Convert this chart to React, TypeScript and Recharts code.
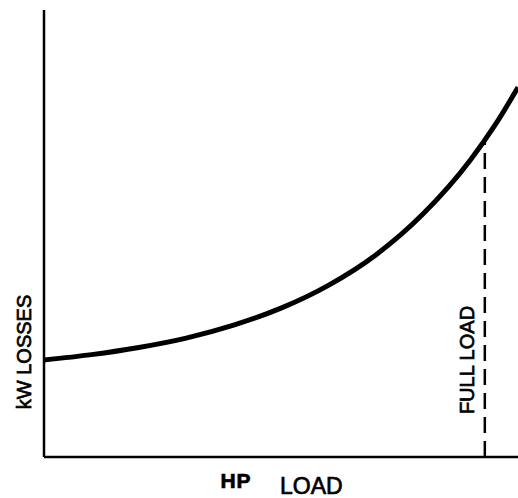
import { LineChart, Line, XAxis, YAxis, ReferenceLine, Label } from 'recharts';

// load in % of full scale, losses in % of the vertical axis
const loads = [0, 10, 20, 30, 40, 50, 60, 70, 80, 90, 95, 100];
const losses = [21.7, 22.9, 24.5, 26.6, 29.5, 33.3, 38.4, 45.2, 54.4, 66.5, 74.0, 82.7];

const FULL_LOAD = 93;
const FULL_LOAD_LOSS = 70.9;

const data = loads.map((load, i) => ({ load, loss: losses[i] }));

const FONT = '"Liberation Sans", Arial, Helvetica, sans-serif';

function YTitle({ viewBox }: any) {
  const x = viewBox.x - 19;
  const y = viewBox.y + viewBox.height * 0.765;
  return (
    <text
      x={x}
      y={y}
      transform={`rotate(-90 ${x} ${y})`}
      textAnchor="middle"
      dominantBaseline="central"
      fontFamily={FONT}
      fontSize={20}
      fill="#000"
      stroke="#000"
      strokeWidth={0.7}
    >
      kW LOSSES
    </text>
  );
}

function XTitle({ viewBox }: any) {
  const { x, y, width } = viewBox;
  const fx = x + width * 0.8925;
  const fy = y - 97;
  return (
    <g fontFamily={FONT} fill="#000" stroke="#000" strokeWidth={0.7}>
      <text x={x + width * 0.405} y={y + 31} textAnchor="middle" fontSize={21} fontWeight="bold" letterSpacing={1}>
        HP
      </text>
      <text x={x + width * 0.498} y={y + 37} textAnchor="start" fontSize={23}>
        LOAD
      </text>
      <text
        x={fx}
        y={fy}
        transform={`rotate(-90 ${fx} ${fy})`}
        textAnchor="middle"
        dominantBaseline="central"
        fontSize={20}
      >
        FULL LOAD
      </text>
    </g>
  );
}

export default function App() {
  return (
    <div style={{ position: 'absolute', left: 0, top: 0, width: 518, height: 498, background: '#fff' }}>
      <LineChart width={518} height={498} data={data} margin={{ top: 10, right: 0, bottom: 40, left: 43 }}>
        <XAxis
          dataKey="load"
          type="number"
          domain={[0, 100]}
          height={1}
          tick={false}
          tickLine={false}
          axisLine={{ stroke: '#000', strokeWidth: 2.5 }}
        >
          <Label content={XTitle} />
        </XAxis>
        <YAxis
          type="number"
          domain={[0, 100]}
          width={1}
          tick={false}
          tickLine={false}
          axisLine={{ stroke: '#000', strokeWidth: 2.5 }}
        >
          <Label content={YTitle} />
        </YAxis>
        <ReferenceLine
          segment={[
            { x: FULL_LOAD, y: 0 },
            { x: FULL_LOAD, y: FULL_LOAD_LOSS },
          ]}
          stroke="#000"
          strokeWidth={2.5}
          strokeDasharray="16 8"
        />
        <Line
          type="monotone"
          dataKey="loss"
          stroke="#000"
          strokeWidth={5}
          dot={false}
          isAnimationActive={false}
        />
      </LineChart>
    </div>
  );
}
